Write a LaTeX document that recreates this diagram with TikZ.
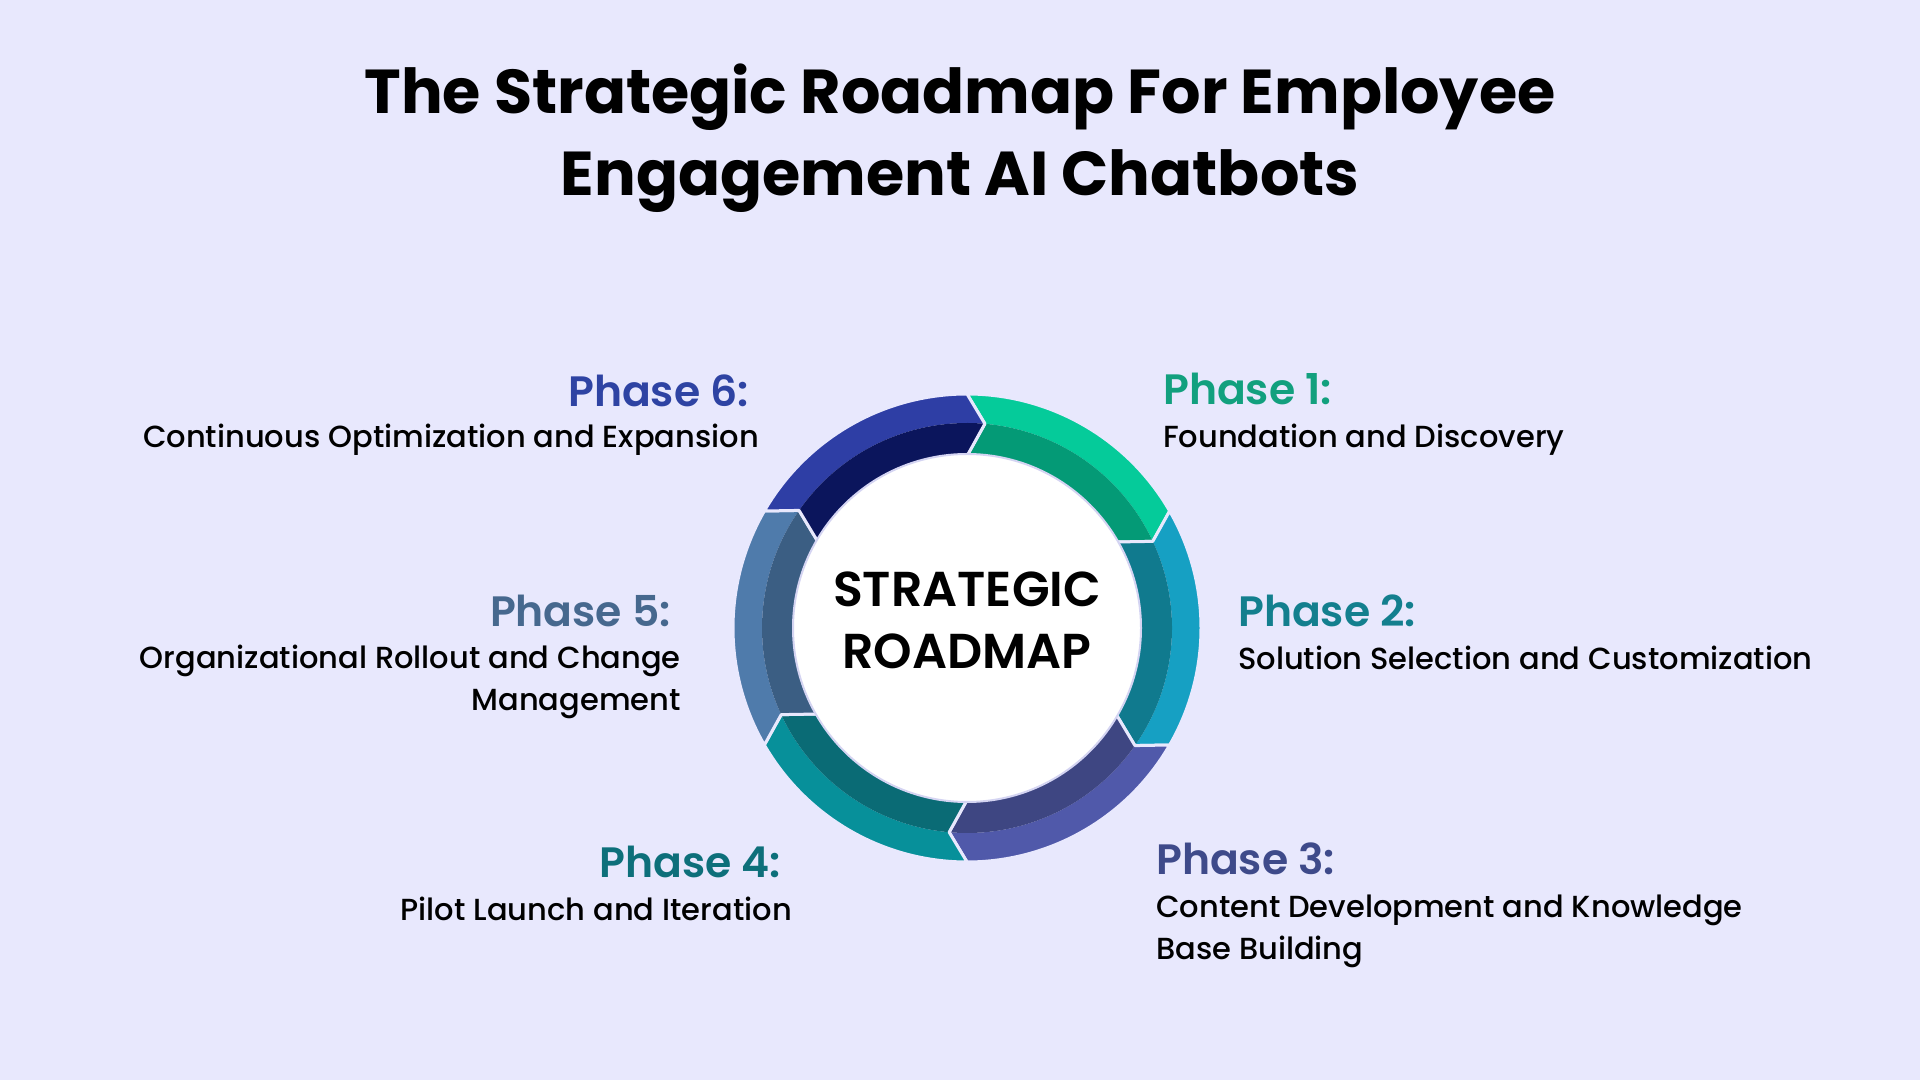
\documentclass[tikz,border=0pt]{standalone}
\usepackage{fontspec}
\setmainfont{Poppins}[UprightFont=* Medium, BoldFont=* SemiBold]
\newfontfamily\titlefont{Poppins}[UprightFont=* Bold]
\usetikzlibrary{positioning}

\definecolor{bg}{HTML}{E8E8FD}
\definecolor{hubedge}{HTML}{D4D4F2}
\definecolor{pAl}{HTML}{05CB9A}\definecolor{pAd}{HTML}{049A76}\definecolor{pAt}{HTML}{12A07E}
\definecolor{pBl}{HTML}{16A0C3}\definecolor{pBd}{HTML}{107A8E}\definecolor{pBt}{HTML}{137F8E}
\definecolor{pCl}{HTML}{5059AA}\definecolor{pCd}{HTML}{3E4682}\definecolor{pCt}{HTML}{3E4A8A}
\definecolor{pDl}{HTML}{07909A}\definecolor{pDd}{HTML}{0A6B75}\definecolor{pDt}{HTML}{0D6F7A}
\definecolor{pEl}{HTML}{4F7BAB}\definecolor{pEd}{HTML}{3B5E83}\definecolor{pEt}{HTML}{46688E}
\definecolor{pFl}{HTML}{2E3EA5}\definecolor{pFd}{HTML}{0B155C}\definecolor{pFt}{HTML}{2E43A3}

\tikzset{
	head/.style={inner sep=0pt, font=\fontsize{42.5}{48}\selectfont\bfseries},
	desc/.style={inner sep=0pt, font=\fontsize{30.5}{42}\selectfont, text=black},
}

\begin{document}
\begin{tikzpicture}[x=1pt, y=1pt]
	\fill [bg] (0, 0) rectangle (1920, 1080);
	\useasboundingbox (0, 0) rectangle (1920, 1080);
	% multi-line nodes sit on the baseline of their last line
	\node [inner sep=0pt, align=center, anchor=base, font=\titlefont\fontsize{62}{82}\selectfont] (Title) at (960, 884)
		{The Strategic Roadmap For Employee\\Engagement AI Chatbots};
	\coordinate (C) at (967, 452);
	\begin{scope}[shift={(C)}]
		\foreach \s/\lt/\dk in {90/pAl/pAd, 30/pBl/pBd, -30/pCl/pCd, -90/pDl/pDd, -150/pEl/pEd, 150/pFl/pFd} {
			\pgfmathsetmacro{\e}{\s - 60}
			\pgfmathsetmacro{\t}{\s - 65}
			\pgfmathsetmacro{\n}{\s - 5}
			\fill [\lt] (\s:234) arc [start angle=\s, end angle=\e, radius=234] -- (\t:205)
				arc [start angle=\t, end angle=\n, radius=205] -- cycle;
			\fill [\dk] (\n:205) arc [start angle=\n, end angle=\t, radius=205] -- (\e:172)
				arc [start angle=\e, end angle=\s, radius=172] -- cycle;
			\draw [bg, line width=3, line join=round] (\s:234) arc [start angle=\s, end angle=\e, radius=234] -- (\t:205) -- (\e:172)
				arc [start angle=\e, end angle=\s, radius=172] -- (\n:205) -- cycle;
		}
	\end{scope}
	\node [circle, fill=white, draw=hubedge, line width=2, minimum size=348, inner sep=0pt] (Hub) at (C) {};
	\node [align=center, inner sep=0pt, font=\bfseries\fontsize{49}{62}\selectfont] (HubLabel) at (967, 460) {STRATEGIC\\ROADMAP};
	% right side
	\node [head, text=pAt, anchor=base west] (P1) at (1163, 675) {Phase 1:};
	\node [desc, anchor=base west, align=left] (D1) at (1163, 632) {Foundation and Discovery};
	\node [head, text=pBt, anchor=base west] (P2) at (1238, 453) {Phase 2:};
	\node [desc, anchor=base west, align=left] (D2) at (1238, 410) {Solution Selection and Customization};
	\node [head, text=pCt, anchor=base west] (P3) at (1156, 206) {Phase 3:};
	\node [desc, anchor=base west, align=left] (D3) at (1156, 121) {Content Development and Knowledge\\Base Building};
	% left side
	\node [head, text=pDt, anchor=base east] (P4) at (781, 203) {Phase 4:};
	\node [desc, anchor=base east, align=right] (D4) at (792, 160) {Pilot Launch and Iteration};
	\node [head, text=pEt, anchor=base east] (P5) at (671, 453) {Phase 5:};
	\node [desc, anchor=base east, align=right] (D5) at (681, 369) {Organizational Rollout and Change\\Management};
	\node [head, text=pFt, anchor=base east] (P6) at (749, 673) {Phase 6:};
	\node [desc, anchor=base east, align=right] (D6) at (759, 632) {Continuous Optimization and Expansion};
\end{tikzpicture}
\end{document}
